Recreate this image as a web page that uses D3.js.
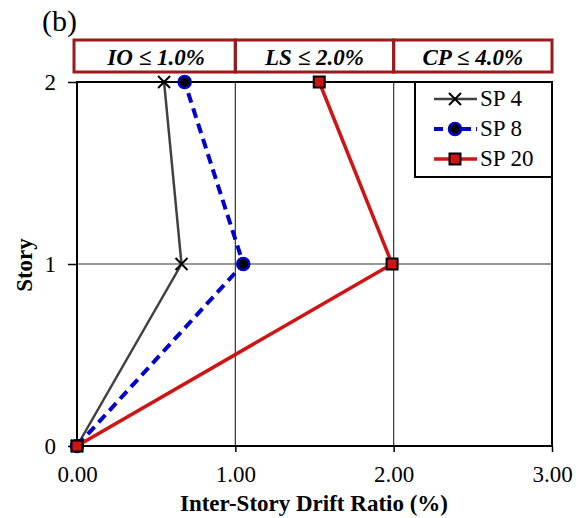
<!DOCTYPE html>
<html>
<head>
<meta charset="utf-8">
<script src="https://cdn.jsdelivr.net/npm/d3@7"></script>
<style>
  body { margin: 0; background: #fff; }
  text { font-family: "Liberation Serif", "Times New Roman", serif; }
</style>
</head>
<body>
<div id="chart"></div>
<script>
// data
const stories = [0, 1, 2];
const sp4 = [0, 0.66, 0.55];
const sp8 = [0, 1.05, 0.68];
const sp20 = [0, 1.99, 1.53];
const xTicks = [0, 1, 2, 3];
const yTicks = [0, 1, 2];
const limitLabels = ['IO \u2264 1.0%', 'LS \u2264 2.0%', 'CP \u2264 4.0%'];
const limitBounds = [0, 1, 2, 3];

const width = 578;
const height = 518;

var svg = d3.select('#chart')
  .append('svg')
  .attr('width', width)
  .attr('height', height);

var x = d3.scaleLinear().domain([0, 3]).range([77, 552]);
var y = d3.scaleLinear().domain([0, 2]).range([446, 82]);

// panel label
svg.append('text')
  .attr('x', 42).attr('y', 31)
  .style('font-size', '30px')
  .text('(b)');

// grid
svg.append('g').selectAll('line')
  .data(xTicks.slice(1, 3))
  .enter().append('line')
  .attr('x1', d => x(d)).attr('x2', d => x(d))
  .attr('y1', y(0)).attr('y2', y(2))
  .attr('stroke', '#333').attr('stroke-width', 1.2);
svg.append('g').selectAll('line')
  .data(yTicks.slice(1, 2))
  .enter().append('line')
  .attr('x1', x(0)).attr('x2', x(3))
  .attr('y1', d => y(d)).attr('y2', d => y(d))
  .attr('stroke', '#333').attr('stroke-width', 1.2);

// frame
svg.append('rect')
  .attr('x', x(0)).attr('y', y(2))
  .attr('width', x(3) - x(0)).attr('height', y(0) - y(2))
  .attr('fill', 'none').attr('stroke', '#000').attr('stroke-width', 2);

// axes
var xAxis = svg.append('g')
  .attr('transform', 'translate(0,' + y(0) + ')')
  .call(d3.axisBottom(x).tickValues(xTicks).tickFormat(d3.format('.2f')).tickSize(6).tickPadding(14));
var yAxis = svg.append('g')
  .attr('transform', 'translate(' + x(0) + ',0)')
  .call(d3.axisLeft(y).tickValues(yTicks).tickFormat(d3.format('d')).tickSize(9).tickPadding(12));
[xAxis, yAxis].forEach(function(a) {
  a.select('.domain').remove();
  a.selectAll('line').attr('stroke', '#000').attr('stroke-width', 1.5);
  a.selectAll('text')
    .style('font-family', '"Liberation Serif", serif')
    .style('font-size', '23px')
    .attr('fill', '#000');
});

// axis titles
svg.append('text')
  .attr('x', 314).attr('y', 511)
  .attr('text-anchor', 'middle')
  .style('font-size', '23px').style('font-weight', 'bold')
  .text('Inter-Story Drift Ratio (%)');
svg.append('text')
  .attr('transform', 'translate(32,' + (y(1) + 1) + ') rotate(-90)')
  .attr('text-anchor', 'middle')
  .style('font-size', '23px').style('font-weight', 'bold')
  .text('Story');

// performance limit header
var hdr = svg.append('g');
hdr.selectAll('rect')
  .data(limitLabels)
  .enter().append('rect')
  .attr('x', (d, i) => i == 0 ? x(limitBounds[i]) - 3 : x(limitBounds[i]))
  .attr('y', 40)
  .attr('width', (d, i) => x(limitBounds[i + 1]) - x(limitBounds[i]) + (i == 0 ? 3 : 0))
  .attr('height', 32)
  .attr('fill', 'none')
  .attr('stroke', '#9a1a1e').attr('stroke-width', 3);
hdr.selectAll('text')
  .data(limitLabels)
  .enter().append('text')
  .attr('x', (d, i) => (x(limitBounds[i]) + x(limitBounds[i + 1])) / 2)
  .attr('y', 65)
  .attr('text-anchor', 'middle')
  .style('font-size', '23px').style('font-weight', 'bold').style('font-style', 'italic')
  .text(d => d);

// series
var series = [
  { name: 'SP 4', values: sp4, color: '#404040', width: 2.5, dash: null, marker: 'x' },
  { name: 'SP 8', values: sp8, color: '#0000cc', width: 4, dash: '10,6', marker: 'circle' },
  { name: 'SP 20', values: sp20, color: '#d01414', width: 3.5, dash: null, marker: 'square' }
];

var line = d3.line()
  .x(d => x(d[0]))
  .y(d => y(d[1]));

function drawMarker(g, type, cx, cy, s) {
  if (type == 'x') {
    g.append('path')
      .attr('d', 'M' + (cx - 6) + ',' + (cy - 6) + 'L' + (cx + 6) + ',' + (cy + 6) +
                 'M' + (cx - 6) + ',' + (cy + 6) + 'L' + (cx + 6) + ',' + (cy - 6))
      .attr('stroke', '#000').attr('stroke-width', 2);
  } else if (type == 'circle') {
    g.append('circle')
      .attr('cx', cx).attr('cy', cy).attr('r', 6)
      .attr('fill', '#000').attr('stroke', s.color).attr('stroke-width', 2.5);
  } else {
    g.append('rect')
      .attr('x', cx - 5.5).attr('y', cy - 5.5)
      .attr('width', 11).attr('height', 11)
      .attr('fill', s.color).attr('stroke', '#000').attr('stroke-width', 2);
  }
}

series.forEach(function(s) {
  var pts = s.values.map((v, i) => [v, stories[i]]);
  svg.append('path')
    .attr('d', line(pts))
    .attr('fill', 'none')
    .attr('stroke', s.color)
    .attr('stroke-width', s.width)
    .attr('stroke-dasharray', s.dash);
  var g = svg.append('g');
  pts.forEach(p => drawMarker(g, s.marker, x(p[0]), y(p[1]), s));
});

// legend
var leg = svg.append('g');
leg.append('rect')
  .attr('x', 415).attr('y', y(2))
  .attr('width', x(3) - 415).attr('height', 95)
  .attr('fill', '#fff').attr('stroke', '#000').attr('stroke-width', 2);
series.forEach(function(s, i) {
  var ly = 99 + i * 30;
  leg.append('line')
    .attr('x1', 434).attr('x2', 477)
    .attr('y1', ly).attr('y2', ly)
    .attr('stroke', s.color).attr('stroke-width', s.width)
    .attr('stroke-dasharray', s.dash ? '9,5' : null);
  drawMarker(leg, s.marker, 455, ly, s);
  leg.append('text')
    .attr('x', 480).attr('y', ly + 7)
    .style('font-size', '23px')
    .text(s.name);
});
</script>
</body>
</html>
